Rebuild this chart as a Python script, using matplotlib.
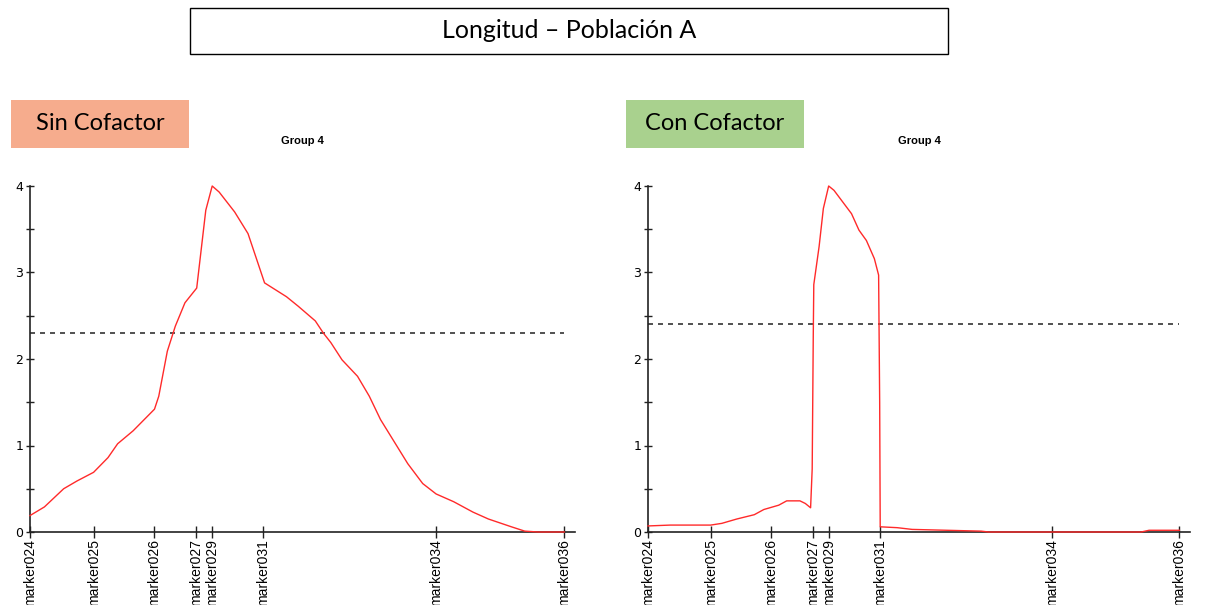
import matplotlib.pyplot as plt
from matplotlib.patches import Rectangle

# marker positions (relative map position)
marker_names = ['marker024', 'marker025', 'marker026', 'marker027',
                'marker029', 'marker031', 'marker034', 'marker036']
marker_pos = [0, 11.9, 23.2, 31.1, 34.1, 43.7, 76.0, 100]

# Sin Cofactor profile
sin_x = [0, 2.7, 6.3, 8.8, 11.9, 14.6, 16.4, 19.3, 23.3, 24.1, 25.7, 27.2, 29.0,
         31.2, 32.9, 34.1, 35.4, 38.3, 40.8, 43.9, 48.0, 50.2, 53.4, 54.9, 56.3,
         58.4, 61.3, 63.5, 65.6, 68.2, 70.7, 73.5, 76.0, 79.3, 82.9, 85.8, 90.1,
         92.6, 95.1, 100]
sin_y = [0.19, 0.29, 0.50, 0.59, 0.69, 0.86, 1.02, 1.17, 1.42, 1.57, 2.09, 2.38, 2.65,
         2.82, 3.72, 4.0, 3.93, 3.70, 3.45, 2.88, 2.72, 2.61, 2.44, 2.30, 2.19,
         1.99, 1.80, 1.57, 1.30, 1.04, 0.79, 0.56, 0.44, 0.35, 0.23, 0.15, 0.06,
         0.01, 0.0, 0.0]
sin_thr = 2.3

# Con Cofactor profile
con_x = [0, 4.2, 11.8, 13.9, 16.7, 20.0, 21.8, 24.6, 26.1, 28.6, 29.6, 30.6, 30.9,
         31.1, 31.2, 32.2, 33.0, 34.0, 35.0, 38.3, 39.7, 41.1, 42.6, 43.4, 43.6,
         43.7, 46.9, 49.7, 62.7, 64.1, 92.8, 94.3, 100]
con_y = [0.07, 0.08, 0.08, 0.10, 0.15, 0.20, 0.26, 0.31, 0.36, 0.36, 0.33, 0.28, 0.73,
         2.26, 2.86, 3.30, 3.74, 4.0, 3.95, 3.68, 3.49, 3.37, 3.16, 2.97, 1.50,
         0.06, 0.05, 0.03, 0.01, 0.0, 0.0, 0.02, 0.02]
con_thr = 2.4

W, H = 1208, 605
fig = plt.figure(figsize=(W / 100, H / 100), dpi=100)


def fx(px):
    return px / W


def fy(py):
    return 1 - py / H


# title box
fig.add_artist(Rectangle((fx(190), fy(54)), fx(758), 46 / H, transform=fig.transFigure,
                         facecolor='white', edgecolor='black', lw=1.0))
fig.text(fx(569), fy(31), 'Longitud – Población A', ha='center', va='center',
         fontsize=18, family='Lato')


def panel(left_px, right_px, xs, ys, thr, label, label_color, box_left):
    ax = fig.add_axes([fx(left_px), fy(532), fx(right_px - left_px), 346 / H])
    ax.plot(xs, ys, color='#ff2a2a', lw=1.0, zorder=3, clip_on=False)
    ax.plot([0, 100], [thr, thr], color='#333333', lw=1.2, dashes=(3, 3))
    ax.set_xlim(0, 102)
    ax.set_ylim(0, 4)
    for s in ['top', 'right']:
        ax.spines[s].set_visible(False)
    for s in ['left', 'bottom']:
        ax.spines[s].set_color('#222222')
        ax.spines[s].set_linewidth(1.2)
    ax.set_xticks(marker_pos)
    ax.set_xticklabels(marker_names, rotation=90, fontsize=10, family='Liberation Sans')
    ax.set_yticks([0, 1, 2, 3, 4])
    ax.set_yticks([0.5, 1.5, 2.5, 3.5], minor=True)
    ax.tick_params(axis='x', direction='inout', length=8, width=1, pad=1, color='#222222')
    ax.tick_params(axis='y', which='both', direction='inout', length=6, width=1, pad=2,
                   labelsize=9, color='#222222')
    ax.text(0.5, 1.13, 'Group 4', transform=ax.transAxes, ha='center', va='center',
            fontsize=8, fontweight='bold', family='Liberation Sans')
    # coloured label box
    fig.add_artist(Rectangle((fx(box_left), fy(148)), fx(178), 48 / H,
                             transform=fig.transFigure, facecolor=label_color,
                             edgecolor='none'))
    fig.text(fx(box_left + 89), fy(124), label, ha='center', va='center',
             fontsize=17, family='Lato')
    return ax


panel(30, 575, sin_x, sin_y, sin_thr, 'Sin Cofactor', '#F6AC8D', 11)
panel(648, 1190, con_x, con_y, con_thr, 'Con Cofactor', '#A9D18E', 626)

fig.savefig('out.png', dpi=100)
